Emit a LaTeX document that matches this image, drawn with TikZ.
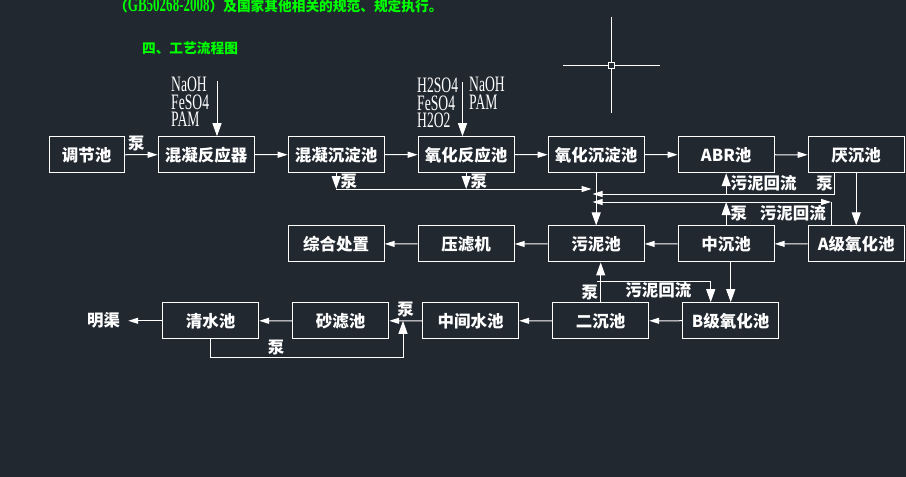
\documentclass[tikz,border=0pt]{standalone}
\usepackage{fontspec}
\usetikzlibrary{matrix,arrows.meta,positioning}
\newfontfamily\cjk{Noto Sans CJK SC}
\newfontfamily\cadfont[FakeStretch=0.62]{Liberation Serif}
\definecolor{cadbg}{RGB}{33,40,48}
\definecolor{cadgreen}{RGB}{0,255,0}
\tikzset{
  pool/.style={draw=white, line width=1pt, text=white, minimum width=96pt, minimum height=36pt, inner sep=0pt, font=\cjk\bfseries\fontsize{16.5}{18}\selectfont},
  lbl/.style={text=white, inner sep=1pt, font=\cjk\bfseries\fontsize{16.5}{18}\selectfont},
  chem/.style={text=white, inner sep=0pt, align=left, font=\cadfont\fontsize{22}{17.5}\selectfont},
  pipe/.style={white, line width=1pt},
  flow/.style={pipe, -{Triangle[length=10pt,width=6pt]}},
  vflow/.style={pipe, -{Triangle[length=13pt,width=9pt]}},
}

\begin{document}
\begin{tikzpicture}[x=1pt, y=-1pt]
\path[use as bounding box, fill=cadbg] (0,0) rectangle (906,477);

\node (spec) [anchor=west, inner sep=0pt, text=cadgreen, font=\cjk\bfseries\fontsize{13.7}{15}\selectfont] at (114,5.5)
  {（{\cadfont\fontsize{21}{21}\selectfont GB50268-2008}）及国家其他相关的规范、规定执行。};
\node (title) [inner sep=0pt, text=cadgreen, font=\cjk\bfseries\fontsize{13.7}{15}\selectfont] at (190,48) {四、工艺流程图};

% cursor
\draw[pipe] (563,65.3) -- (608.3,65.3) (614.7,65.3) -- (660,65.3)
  (611.5,16.7) -- (611.5,62.3) (611.5,68.7) -- (611.5,113)
  (608.3,62.3) rectangle (614.7,68.7);

\matrix (b) [matrix of nodes, nodes={pool}, column sep=33pt, row sep=52pt, inner sep=0pt, anchor=north west] at (48.5,136)
{
  |[minimum width=75pt]| 调节池 & 混凝反应器 & 混凝沉淀池 & 氧化反应池 & 氧化沉淀池 & ABR池 & 厌沉池\\
  & & 综合处置 & 压滤机 & 污泥池 & 中沉池 & A级氧化池\\
};
\matrix (c) [matrix of nodes, nodes={pool}, column sep=33pt, inner sep=0pt, anchor=north west] at (162,302)
{
  清水池 & 砂滤池 & 中间水池 & 二沉池 & B级氧化池\\
};
\node (mq) [lbl, left=41pt of c-1-1] {明渠};

% dosing
\node (chema) [chem, anchor=north west] at (171,77) {NaOH\\FeSO4\\PAM};
\node (chemb) [chem, anchor=north west] at (417,78) {H2SO4\\FeSO4\\H2O2};
\node (chemc) [chem, anchor=north west] at (469,77) {NaOH\\PAM};
\coordinate (ina) at (217,81);
\coordinate (inb) at (462.5,82);
\draw[vflow] (ina) -- (ina |- b-1-2.north);
\draw[vflow] (inb) -- (inb |- b-1-4.north);

\path[flow]
  (b-1-1) edge node (lp1) [lbl, above=2pt, pos=0.35] {泵} (b-1-2)
  (b-1-2) edge (b-1-3)
  (b-1-3) edge (b-1-4)
  (b-1-4) edge (b-1-5)
  (b-1-5) edge (b-1-6)
  (b-1-6) edge (b-1-7)
  (b-2-7) edge (b-2-6)
  (b-2-6) edge (b-2-5)
  (b-2-5) edge (b-2-4)
  (b-2-4) edge (b-2-3)
  (c-1-5) edge (c-1-4)
  (c-1-4) edge (c-1-3)
  (c-1-3) edge node (lp7) [lbl, above=2pt] {泵} (c-1-2)
  (c-1-2) edge (c-1-1)
  (c-1-1) edge[shorten >=7pt] (mq);

% sludge lines
\coordinate (sla) at (591.5,189);
\coordinate (slb) at (592.5,194);
\coordinate (slc) at (592.5,202);
\coordinate (ret) at (831,202);
\draw[vflow] (b-1-3.south) -- node (lp2) [lbl, right=3pt] {泵} (b-1-3.south |- sla);
\draw[vflow] (b-1-4.south) -- node (lp3) [lbl, right=3pt] {泵} (b-1-4.south |- sla);
\draw[flow] (b-1-3.south |- sla) -- (sla);
\draw[vflow] (b-1-5) -- (b-2-5);
\draw[flow] ([xshift=-22pt]b-1-7.south) |- (slb);
\draw[vflow] (b-1-6.south |- slb) -- node (lr1) [lbl, right=3pt] {污泥回流} (b-1-6.south);
\node (lp4) [lbl, right=17pt of lr1] {泵};
\draw[vflow] (b-2-6.north) -- node (lp5) [lbl, right=3pt] {泵} (b-2-6.north |- slc);
\node (lr2) [lbl, right=10pt of lp5] {污泥回流};
\draw[flow] (b-2-6.north |- slc) -- (slc);
\draw[flow] (b-2-6.north |- slc) -- (ret);
\draw[pipe] (ret) -- (ret |- b-2-7.north);
\draw[vflow] (b-1-7) -- (b-2-7);

\coordinate (ret2) at (597,281);
\coordinate (lop) at (403,357);
\draw[vflow] (c-1-4.north) -- node (lp6) [lbl, left=1pt, pos=0.24] {泵} (c-1-4.north |- b-2-5.south);
\draw[vflow] (ret2) -| node (lr3) [lbl, below=0pt, pos=0.27] {污泥回流} ([xshift=-20pt]c-1-5.north);
\draw[vflow] (c-1-5 |- b-2-6.south) -- (c-1-5.north);
\draw[vflow] (c-1-1.south) |- node (lp8) [lbl, above=0pt, pos=0.67] {泵} (lop) -- (lop |- c-1-2);
\end{tikzpicture}
\end{document}
